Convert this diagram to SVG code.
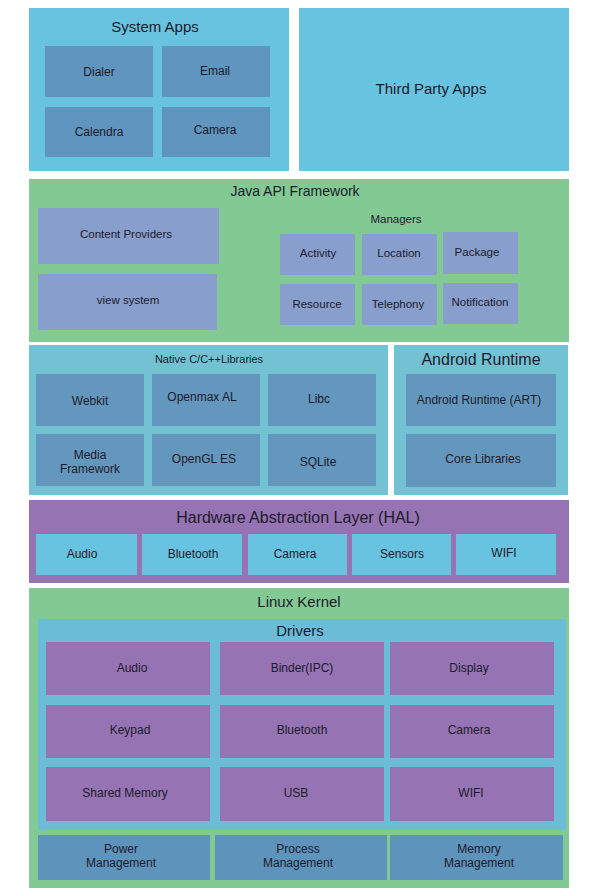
<svg xmlns="http://www.w3.org/2000/svg" width="596" height="893" viewBox="0 0 596 893">
<style>
text{font-family:"Liberation Sans",Arial,sans-serif;fill:#1d1b2c;text-anchor:middle;dominant-baseline:central}
.t15{font-size:15px}.t16{font-size:16px}.t14{font-size:14px}.t12{font-size:12px}.t11{font-size:11.5px}.t10{font-size:11px}
.sky{fill:#68c3e0}.dblue{fill:#5f95be}.green{fill:#83c994}.lav{fill:#889ecc}
.nat{fill:#72c2d4}.natin{fill:#6497bd}.purp{fill:#9673b3}.drv{fill:#6bbcd6}.bot{fill:#5e93bb}
</style>
<rect width="596" height="893" fill="#ffffff"/>
<g id="system-apps">
<rect class="sky" x="29" y="8" width="260" height="163"/>
<text class="t15" x="155" y="26">System Apps</text>
<rect class="dblue" x="45" y="46" width="108" height="51"/><text class="t12" x="99" y="72">Dialer</text>
<rect class="dblue" x="162" y="46" width="108" height="51"/><text class="t12" x="215" y="71">Email</text>
<rect class="dblue" x="45" y="107" width="108" height="50"/><text class="t12" x="99" y="132">Calendra</text>
<rect class="dblue" x="162" y="107" width="108" height="50"/><text class="t12" x="215" y="130">Camera</text>
</g>
<g id="third-party">
<rect class="sky" x="299" y="8" width="270" height="163"/>
<text class="t15" x="431" y="88">Third Party Apps</text>
</g>
<g id="java-api">
<rect class="green" x="29" y="179" width="540" height="163"/>
<text class="t14" x="295" y="191">Java API Framework</text>
<rect class="lav" x="38" y="208" width="181" height="56"/><text class="t11" x="126" y="234">Content Providers</text>
<rect class="lav" x="38" y="274" width="179" height="56"/><text class="t11" x="128" y="300">view system</text>
<text class="t11" x="396" y="219">Managers</text>
<rect class="lav" x="280" y="234" width="75" height="41"/><text class="t11" x="318" y="253">Activity</text>
<rect class="lav" x="362" y="234" width="75" height="41"/><text class="t11" x="399" y="253">Location</text>
<rect class="lav" x="443" y="232" width="75" height="42"/><text class="t11" x="477" y="252">Package</text>
<rect class="lav" x="280" y="284" width="75" height="41"/><text class="t11" x="317" y="304">Resource</text>
<rect class="lav" x="362" y="284" width="75" height="41"/><text class="t11" x="398" y="304">Telephony</text>
<rect class="lav" x="443" y="283" width="75" height="41"/><text class="t11" x="480" y="302">Notification</text>
</g>
<g id="native-libs">
<rect class="nat" x="29" y="345" width="359" height="150"/>
<text class="t10" x="209" y="359">Native C/C++Libraries</text>
<rect class="natin" x="36" y="374" width="108" height="52"/><text class="t12" x="90" y="401">Webkit</text>
<rect class="natin" x="152" y="374" width="108" height="52"/><text class="t12" x="202" y="397">Openmax AL</text>
<rect class="natin" x="268" y="374" width="108" height="52"/><text class="t12" x="319" y="399">Libc</text>
<rect class="natin" x="36" y="434" width="108" height="52"/><text class="t12" x="90" y="455">Media</text><text class="t12" x="90" y="469">Framework</text>
<rect class="natin" x="152" y="434" width="108" height="52"/><text class="t12" x="204" y="459">OpenGL ES</text>
<rect class="natin" x="268" y="434" width="108" height="52"/><text class="t12" x="318" y="462">SQLite</text>
</g>
<g id="android-runtime">
<rect class="nat" x="394" y="345" width="174" height="150"/>
<text class="t16" x="481" y="359">Android Runtime</text>
<rect class="natin" x="406" y="374" width="150" height="52"/><text class="t12" x="479" y="400">Android Runtime (ART)</text>
<rect class="natin" x="406" y="434" width="150" height="53"/><text class="t12" x="483" y="459">Core Libraries</text>
</g>
<g id="hal">
<rect class="purp" x="29" y="500" width="540" height="83"/>
<text class="t16" x="298" y="517">Hardware Abstraction Layer (HAL)</text>
<rect class="sky" x="36" y="534" width="101" height="41"/><text class="t12" x="82" y="554">Audio</text>
<rect class="sky" x="142" y="534" width="100" height="41"/><text class="t12" x="193" y="554">Bluetooth</text>
<rect class="sky" x="248" y="534" width="99" height="41"/><text class="t12" x="295" y="554">Camera</text>
<rect class="sky" x="352" y="534" width="99" height="41"/><text class="t12" x="402" y="554">Sensors</text>
<rect class="sky" x="456" y="534" width="100" height="41"/><text class="t12" x="504" y="553">WIFI</text>
</g>
<g id="linux-kernel">
<rect class="green" x="29" y="588" width="540" height="300"/>
<text class="t15" x="299" y="601">Linux Kernel</text>
<rect class="drv" x="38" y="619" width="528" height="211"/>
<text class="t15" x="300" y="630">Drivers</text>
<rect class="purp" x="46" y="642" width="164" height="53"/><text class="t12" x="132" y="668">Audio</text>
<rect class="purp" x="220" y="642" width="164" height="53"/><text class="t12" x="302" y="668">Binder(IPC)</text>
<rect class="purp" x="390" y="642" width="164" height="53"/><text class="t12" x="469" y="668">Display</text>
<rect class="purp" x="46" y="705" width="164" height="53"/><text class="t12" x="130" y="730">Keypad</text>
<rect class="purp" x="220" y="705" width="164" height="53"/><text class="t12" x="302" y="730">Bluetooth</text>
<rect class="purp" x="390" y="705" width="164" height="53"/><text class="t12" x="469" y="730">Camera</text>
<rect class="purp" x="46" y="767" width="164" height="54"/><text class="t12" x="125" y="793">Shared Memory</text>
<rect class="purp" x="220" y="767" width="164" height="54"/><text class="t12" x="296" y="793">USB</text>
<rect class="purp" x="390" y="767" width="164" height="54"/><text class="t12" x="471" y="793">WIFI</text>
<rect class="bot" x="38" y="835" width="172" height="45"/><text class="t12" x="121" y="849">Power</text><text class="t12" x="121" y="863">Management</text>
<rect class="bot" x="215" y="835" width="172" height="45"/><text class="t12" x="298" y="849">Process</text><text class="t12" x="298" y="863">Management</text>
<rect class="bot" x="390" y="835" width="173" height="45"/><text class="t12" x="479" y="849">Memory</text><text class="t12" x="479" y="863">Management</text>
</g>
<g id="connectors"></g>
</svg>
